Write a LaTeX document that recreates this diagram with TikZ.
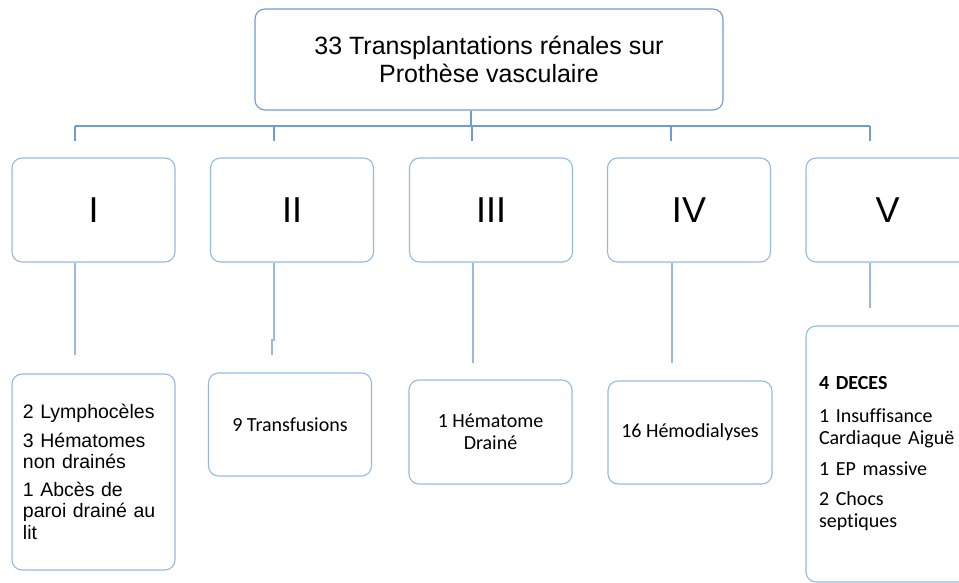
\documentclass[tikz,border=0pt]{standalone}
\usepackage{fontspec}
\setmainfont{Liberation Sans}
\newfontfamily\calib[Ligatures=CommonOff]{Carlito}
\definecolor{boxblue}{RGB}{150,186,228}
\definecolor{topblue}{RGB}{110,156,214}
\begin{document}
\begin{tikzpicture}[x=1pt,y=-1pt,
  box/.style={draw=boxblue,line width=1.1pt,rounded corners=10pt,fill=white,minimum width=163pt,inner sep=0pt},
  topbox/.style={box,draw=topblue,minimum width=468pt,minimum height=101pt},
  rowbox/.style={box,minimum height=104pt,font=\fontsize{36}{40}\selectfont},
  conn/.style={draw=boxblue,line width=1.1pt},
  bus/.style={draw=topblue,line width=1.1pt},
  cal/.style={font=\calib\fontsize{20}{22}\selectfont}]
\useasboundingbox (0,0) rectangle (959,583);
\clip (0,0) rectangle (959,583);
% top
\node[topbox,align=center,font=\fontsize{25}{27.5}\selectfont] (top) at (489,59.5) {33 Transplantations rénales sur\\Prothèse vasculaire};
% row boxes
\node[rowbox] (r1) at (93.5,210) {I};
\node[rowbox] (r2) at (292,210) {II};
\node[rowbox] (r3) at (491,210) {III};
\node[rowbox] (r4) at (689,210) {IV};
\node[rowbox] (r5) at (887.5,210) {V};
% bottom boxes
\node[box,minimum height=196pt,text width=141pt,inner xsep=11pt,align=left,font=\fontsize{19.5}{21.5}\selectfont] (b1) at (93.5,472)
  {2 Lymphocèles\\[7pt]3 Hématomes\\non drainés\\[6pt]1 Abcès de\\paroi drainé au\\lit};
\node[box,cal,minimum height=103pt,align=center] (b2) at (290,424.5) {9 Transfusions};
\node[box,cal,minimum height=104pt,align=center] (b3) at (490.5,432) {1 Hématome\\Drainé};
\node[box,cal,minimum height=103pt,minimum width=164pt,align=center] (b4) at (690,432.5) {16 Hémodialyses};
\node[box,cal,minimum height=256pt,text width=137pt,inner xsep=13pt,align=left] (b5) at (887.5,454)
  {\textbf{4 DECES}\\[11pt]1 Insuffisance\\Cardiaque Aiguë\\[9pt]1 EP massive\\[8pt]2 Chocs\\septiques};
% bus
\coordinate (busL) at (75,126);
\coordinate (busR) at (870,126);
\coordinate (busM) at (471,126);
\draw[bus] (busL) -- (busR);
\draw[bus,line width=1.6pt] (top.south -| busM) -- (busM);
\foreach \i/\x in {1/75,2/274,3/472,4/671,5/870}{
  \coordinate (d\i) at (\x,141);
  \draw[bus] (\x,126) -- (d\i);
}
% lower connectors
\coordinate (e1) at (75,355);
\coordinate (e2a) at (274,340);
\coordinate (e2b) at (272,340);
\coordinate (e2) at (272,355);
\coordinate (e3) at (473,363);
\coordinate (e4) at (672,363);
\coordinate (e5) at (870,308);
\draw[conn] (r1.south -| e1) -- (e1);
\draw[conn] (r2.south -| e2a) -- (e2a) -- (e2b) -- (e2);
\draw[conn] (r3.south -| e3) -- (e3);
\draw[conn] (r4.south -| e4) -- (e4);
\draw[conn] (r5.south -| e5) -- (e5);
\end{tikzpicture}
\end{document}
